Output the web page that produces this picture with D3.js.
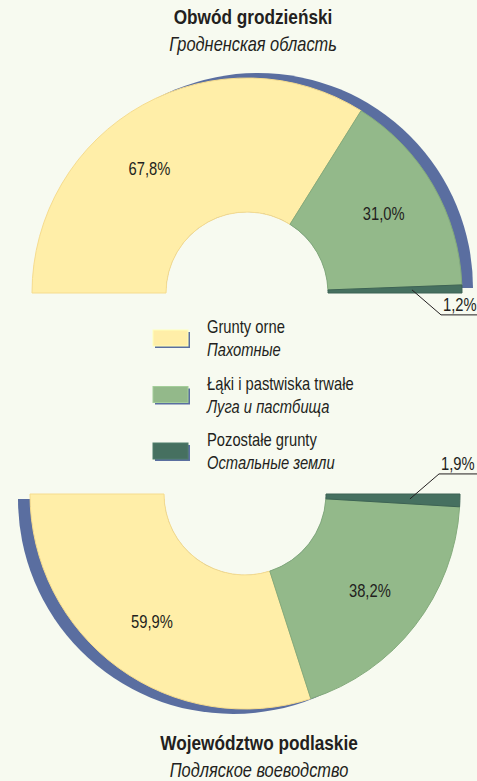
<!DOCTYPE html>
<html>
<head>
<meta charset="utf-8">
<style>
  body { margin: 0; background: #f7faf0; }
  svg { display: block; }
  text { font-family: "Liberation Sans", Arial, sans-serif; fill: #231f20; }
</style>
</head>
<body>
<script src="https://cdn.jsdelivr.net/npm/d3@7"></script>
<script>
// categories (Polish / Russian)
var categoriesPl = ["Grunty orne", "Łąki i pastwiska trwałe", "Pozostałe grunty"];
var categoriesRu = ["Пахотные", "Луга и пастбища", "Остальные земли"];
// shares, %
var grodnoValues = [67.8, 31.0, 1.2];
var podlaskieValues = [59.9, 38.2, 1.9];
var grodnoLabels = ["67,8%", "31,0%", "1,2%"];
var podlaskieLabels = ["59,9%", "38,2%", "1,9%"];

var width = 477, height = 781;
var colors = ["#ffeea8", "#93b98a", "#467060"];
var edges = ["#f6dc8e", "#84ab7c", "#3d6354"];
var shadow = "#5a6ea0";
var bg = "#f7faf0";

var svg = d3.select("body").append("svg")
    .attr("width", width)
    .attr("height", height);

// narrow text: Liberation Sans squeezed to Arial Narrow proportions
function ntext(parent, x, y, str, size) {
  return parent.append("text")
    .attr("transform", "translate(" + x + "," + y + ") scale(0.82,1)")
    .attr("font-size", size)
    .text(str);
}

var R = 215, r = 81;
var arc = d3.arc().innerRadius(r).outerRadius(R);

function halfDonut(values, labels, cx, cy, a0, a1, sdx, sdy, firstShift) {
  var pie = d3.pie().sort(null).startAngle(a0).endAngle(a1);
  var arcs = pie(values);
  var g = svg.append("g").attr("transform", "translate(" + cx + "," + cy + ")");

  // blue shadow half-disk behind
  g.append("path")
    .attr("transform", "translate(" + sdx + "," + sdy + ")")
    .attr("fill", shadow)
    .attr("d", d3.arc().innerRadius(0).outerRadius(R).startAngle(a0).endAngle(a1)());
  g.append("path")
    .attr("fill", bg)
    .attr("d", d3.arc().innerRadius(0).outerRadius(r).startAngle(a0).endAngle(a1)());

  g.selectAll("path.slice")
    .data(arcs)
    .join("path")
    .attr("class", "slice")
    .attr("fill", (d, i) => colors[i])
    .attr("stroke", (d, i) => edges[i])
    .attr("stroke-width", 1)
    .attr("d", arc);

  arcs.forEach(function(d, i) {
    if (i < 2) {
      var a = (d.startAngle + d.endAngle) / 2 + (i === 0 ? firstShift : 0);
      var x = 158 * Math.sin(a), y = -158 * Math.cos(a);
      ntext(g, x, y + 6, labels[i], 18).attr("text-anchor", "middle");
    } else {
      // leader line for the thin slice
      var p = d3.arc().innerRadius(165).outerRadius(165).centroid(d);
      var up = cy > 400 ? -1 : 1;
      var ex = 194, ey = p[1] + up * 25;
      g.append("polyline")
        .attr("fill", "none")
        .attr("stroke", "#231f20")
        .attr("stroke-width", 1)
        .attr("points", [[p[0], p[1]], [ex, ey], [width - cx, ey]].join(" "));
      ntext(g, ex + 2, ey - 4, labels[i], 18);
    }
  });
}

halfDonut(grodnoValues, grodnoLabels, 247, 293, -Math.PI / 2, Math.PI / 2, 11, -5, -0.16);
halfDonut(podlaskieValues, podlaskieLabels, 245, 494, 3 * Math.PI / 2, Math.PI / 2, -12, 5, 0);

// titles
function title(x, y, pl, ru) {
  ntext(svg, x, y, pl, 21).attr("text-anchor", "middle").attr("font-weight", "bold");
  ntext(svg, x, y + 27, ru, 20).attr("text-anchor", "middle").attr("font-style", "italic");
}
title(253, 24, "Obwód grodzieński", "Гродненская область");
title(259, 750, "Województwo podlaskie", "Подляское воеводство");

// legend
var legendY = d3.scalePoint().domain(categoriesPl).range([330, 443]);
var lg = svg.append("g").selectAll("g")
  .data(categoriesPl)
  .join("g")
  .attr("transform", d => "translate(153," + legendY(d) + ")");
lg.append("rect").attr("x", 2).attr("y", 2).attr("width", 35).attr("height", 16).attr("fill", shadow);
lg.append("rect").attr("width", 35).attr("height", 16)
  .attr("fill", (d, i) => colors[i])
  .attr("stroke", (d, i) => d3.color(colors[i]).brighter(0.3))
  .attr("stroke-width", 1);
lg.each(function(d, i) {
  var s = d3.select(this);
  ntext(s, 54, 3, d, 18);
  ntext(s, 54, 26, categoriesRu[i], 18).attr("font-style", "italic");
});
</script>
</body>
</html>
